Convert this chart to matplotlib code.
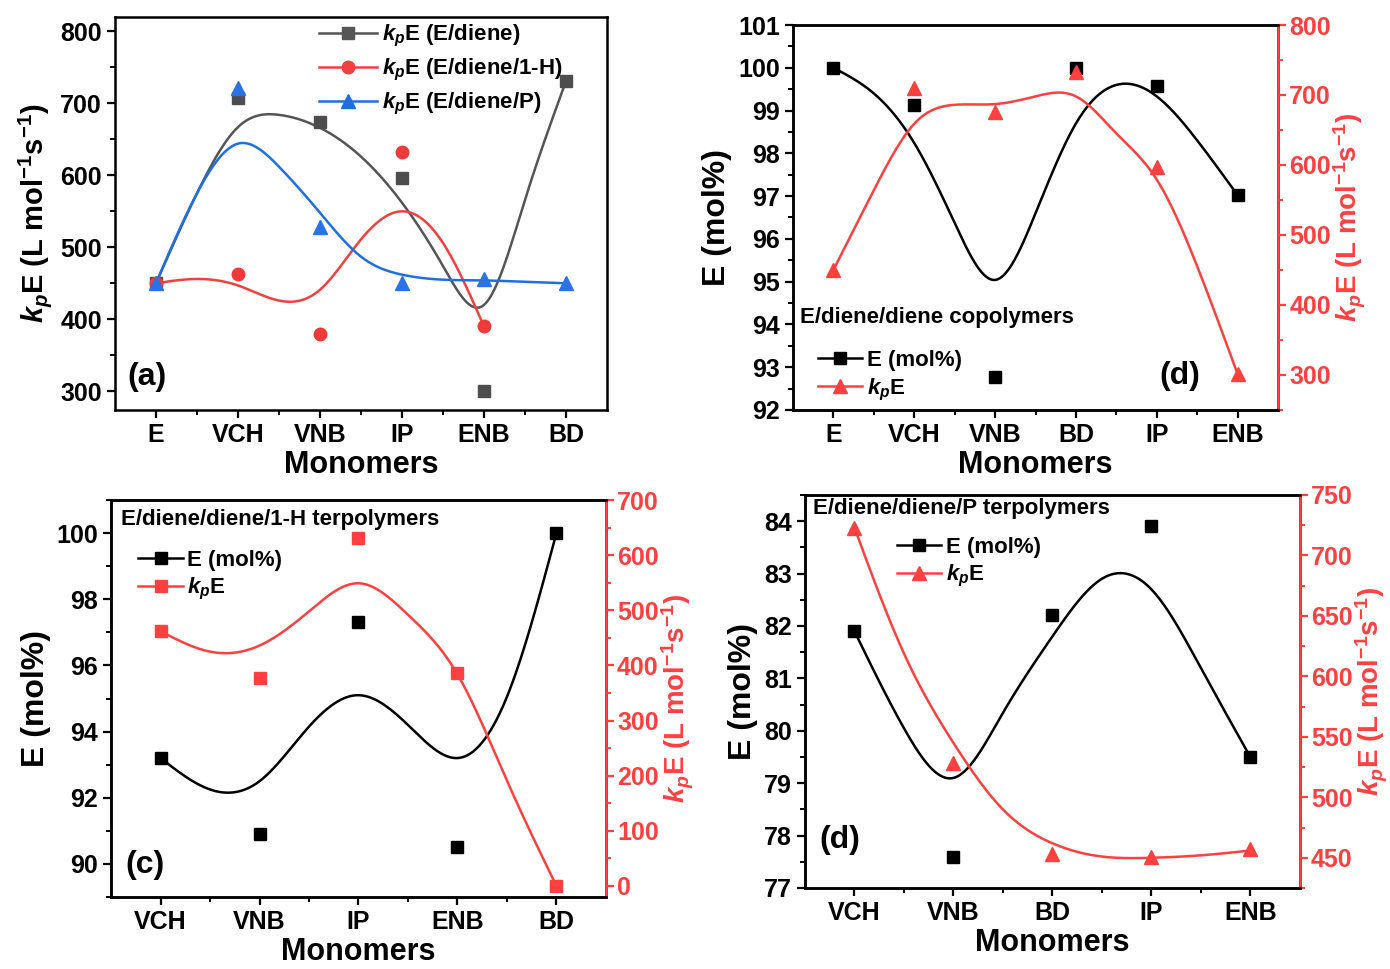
import matplotlib
matplotlib.use("Agg")
import matplotlib.pyplot as plt
import numpy as np
from matplotlib.ticker import FixedLocator, MultipleLocator

plt.rcParams['font.family'] = ['Liberation Sans', 'DejaVu Sans']
plt.rcParams['font.weight'] = 'bold'
plt.rcParams['axes.labelweight'] = 'bold'
plt.rcParams['mathtext.fontset'] = 'custom'
plt.rcParams['mathtext.it'] = 'Liberation Sans:italic:bold'
plt.rcParams['mathtext.rm'] = 'Liberation Sans:bold'
plt.rcParams['mathtext.bf'] = 'Liberation Sans:bold'

# ---- panel (a): kpE for the three systems
mono_a = ["E", "VCH", "VNB", "IP", "ENB", "BD"]
kp_ediene = [450, 708, 674, 596, 301, 731]
kp_ediene_h = [450, 463, 379, 632, 390]
kp_ediene_p = [450, 722, 528, 450, 456, 450]
# smooth guide curves, read at steps of half a category
fit_ediene = [450, 575, 667, 684, 666, 626, 562, 474, 420, 566, 731]
fit_ediene_h = [450, 456, 447, 426, 441, 511, 550, 506, 390]
fit_ediene_p = [450, 575, 644, 612, 548, 487, 462, 455, 454, 452, 450]

# ---- panel (b): E/diene/diene copolymers
mono_b = ["E", "VCH", "VNB", "BD", "IP", "ENB"]
emol_b = [100.0, 99.12, 92.78, 100.0, 99.58, 97.02]
kp_b = [450, 710, 676, 733, 597, 301]
fit_emol_b = [100.0, 99.4, 98.24, 96.37, 95.04, 96.6, 98.7, 99.6, 99.33, 98.3, 97.02]
fit_kp_b = [450, 564, 659, 686, 687, 698, 698, 645, 579, 455, 301]

# ---- panel (c): E/diene/diene/1-H terpolymers
mono_c = ["VCH", "VNB", "IP", "ENB", "BD"]
emol_c = [93.2, 90.9, 97.3, 90.5, 100.0]
kp_c = [462, 378, 631, 387, 0]
fit_emol_c = [93.2, 92.25, 92.5, 94.15, 95.1, 94.2, 93.2, 95.05, 100.0]
fit_kp_c = [462, 425, 436, 498, 549, 492, 384, 191, 0]

# ---- panel (d): E/diene/diene/P terpolymers
mono_d = ["VCH", "VNB", "BD", "IP", "ENB"]
emol_d = [81.9, 77.6, 82.2, 83.9, 79.5]
kp_d = [723, 528, 453, 451, 457]
fit_emol_d = [81.9, 80.05, 79.1, 80.34, 81.8, 82.9, 82.7, 81.2, 79.5]
fit_kp_d = [723, 619, 545, 490, 462, 451, 450, 452, 456]

RED = '#ff4040'
KP = r'$k_p$E'


def spline(yk, n=400):
    # natural cubic spline through points spaced half a category apart
    yk = np.asarray(yk, float)
    xk = np.arange(len(yk)) * 0.5
    m = len(xk)
    h = np.diff(xk)
    A = np.zeros((m, m))
    b = np.zeros(m)
    A[0, 0] = A[-1, -1] = 1
    for i in range(1, m - 1):
        A[i, i - 1] = h[i - 1]
        A[i, i] = 2 * (h[i - 1] + h[i])
        A[i, i + 1] = h[i]
        b[i] = 6 * ((yk[i + 1] - yk[i]) / h[i] - (yk[i] - yk[i - 1]) / h[i - 1])
    M = np.linalg.solve(A, b)
    xs = np.linspace(xk[0], xk[-1], n)
    j = np.clip(np.searchsorted(xk, xs) - 1, 0, m - 2)
    t0 = xk[j + 1] - xs
    t1 = xs - xk[j]
    hj = h[j]
    ys = (M[j] * t0**3 + M[j + 1] * t1**3) / (6 * hj) \
        + (yk[j] / hj - M[j] * hj / 6) * t0 + (yk[j + 1] / hj - M[j + 1] * hj / 6) * t1
    return xs, ys


def style(ax, cats):
    for s in ax.spines.values():
        s.set_linewidth(1.8)
    ax.set_xticks(range(len(cats)))
    ax.set_xticklabels(cats)
    ax.xaxis.set_minor_locator(FixedLocator(np.arange(len(cats) - 1) + 0.5))
    ax.set_xlim(-0.5, len(cats) - 0.5)
    ax.tick_params(which='major', direction='out', length=6, width=1.6, labelsize=18)
    ax.tick_params(which='minor', direction='out', length=3.5, width=1.4)
    ax.set_xlabel('Monomers', fontsize=22, labelpad=2)


def red_axis(ax):
    for s in ax.spines.values():
        s.set_linewidth(1.8)
    ax.spines['right'].set_color(RED)
    ax.tick_params(axis='y', which='both', colors=RED, labelcolor=RED)
    ax.tick_params(which='major', direction='out', length=6, width=1.6, labelsize=18, pad=2)
    ax.tick_params(which='minor', direction='out', length=3.5, width=1.4)
    ax.set_ylabel(KP + r' (L mol$^{\mathrm{-1}}$s$^{\mathrm{-1}}$)', color=RED, fontsize=20,
                  labelpad=1)


fig = plt.figure(figsize=(13.9, 9.69), dpi=100)

# ---------------- (a)
ax = fig.add_axes([0.0827, 0.5769, 0.354, 0.4056])
xa = np.arange(len(mono_a))
ax.plot(*spline(fit_ediene), color='#555555', lw=1.8)
ax.plot(*spline(fit_ediene_h), color='#f04040', lw=1.8)
ax.plot(*spline(fit_ediene_p), color='#1f6fe0', lw=1.8)
ax.plot(xa, kp_ediene, 's', color='#4d4d4d', ms=8)
ax.plot(xa[:len(kp_ediene_h)], kp_ediene_h, 'o', color='#ee3a3a', ms=9)
ax.plot(xa, kp_ediene_p, '^', color='#2a72e6', ms=10)
h1, = ax.plot([], [], 's-', color='#555555', lw=1.8, ms=8)
h2, = ax.plot([], [], 'o-', color='#f04040', lw=1.8, ms=9)
h3, = ax.plot([], [], '^-', color='#1f6fe0', lw=1.8, ms=10)
ax.legend([h1, h2, h3], [KP + ' (E/diene)', KP + ' (E/diene/1-H)', KP + ' (E/diene/P)'],
          loc='upper left', bbox_to_anchor=(0.375, 1.035), frameon=False, fontsize=16,
          handlelength=2.6, handletextpad=0.2, labelspacing=0.35, numpoints=1)
style(ax, mono_a)
ax.set_ylim(274, 820)
ax.yaxis.set_major_locator(MultipleLocator(100))
ax.yaxis.set_minor_locator(MultipleLocator(50))
ax.set_ylabel(KP + r' (L mol$^{\mathrm{-1}}$s$^{\mathrm{-1}}$)', fontsize=21)
ax.text(0.025, 0.085, '(a)', transform=ax.transAxes, fontsize=23, va='center')

# ---------------- (b)
ax = fig.add_axes([0.5705, 0.5769, 0.349, 0.3973])
xb = np.arange(len(mono_b))
ax.plot(*spline(fit_emol_b), color='black', lw=1.8)
ax.plot(xb, emol_b, 's', color='black', ms=8)
style(ax, mono_b)
ax.set_ylim(92, 101)
ax.yaxis.set_major_locator(MultipleLocator(1))
ax.yaxis.set_minor_locator(MultipleLocator(0.5))
ax.set_ylabel('E (mol%)', fontsize=23)
ax2 = ax.twinx()
ax2.plot(*spline(fit_kp_b), color=RED, lw=1.8)
ax2.plot(xb, kp_b, '^', color=RED, ms=10)
ax2.set_ylim(250, 800)
ax2.yaxis.set_major_locator(MultipleLocator(100))
ax2.yaxis.set_minor_locator(MultipleLocator(50))
red_axis(ax2)
ax.text(0.014, 0.24, 'E/diene/diene copolymers', transform=ax.transAxes, fontsize=16, va='center')
hb1, = ax.plot([], [], 's-', color='black', lw=1.8, ms=8)
hb2, = ax.plot([], [], '^-', color=RED, lw=1.8, ms=10)
ax.legend([hb1, hb2], ['E (mol%)', KP], loc='upper left', bbox_to_anchor=(0.01, 0.208),
          frameon=False, fontsize=16, handlelength=2.0, handletextpad=0.2, labelspacing=0.25)
ax.text(0.755, 0.088, '(d)', transform=ax.transAxes, fontsize=23, va='center')

# ---------------- (c)
ax = fig.add_axes([0.0799, 0.0743, 0.356, 0.4097])
xc = np.arange(len(mono_c))
ax.plot(*spline(fit_emol_c), color='black', lw=1.8)
ax.plot(xc, emol_c, 's', color='black', ms=8)
style(ax, mono_c)
ax.set_ylim(89, 101)
ax.yaxis.set_major_locator(MultipleLocator(2))
ax.yaxis.set_minor_locator(MultipleLocator(1))
ax.set_ylabel('E (mol%)', fontsize=23)
ax2 = ax.twinx()
ax2.plot(*spline(fit_kp_c), color=RED, lw=1.8)
ax2.plot(xc, kp_c, 's', color=RED, ms=8)
ax2.set_ylim(-20, 700)
ax2.yaxis.set_major_locator(MultipleLocator(100))
ax2.yaxis.set_minor_locator(MultipleLocator(50))
red_axis(ax2)
ax.text(0.02, 0.95, 'E/diene/diene/1-H terpolymers', transform=ax.transAxes, fontsize=16, va='center')
hc1, = ax.plot([], [], 's-', color='black', lw=1.8, ms=8)
hc2, = ax.plot([], [], 's-', color=RED, lw=1.8, ms=8)
ax.legend([hc1, hc2], ['E (mol%)', KP], loc='upper left', bbox_to_anchor=(0.015, 0.925),
          frameon=False, fontsize=16, handlelength=2.0, handletextpad=0.2, labelspacing=0.25)
ax.text(0.028, 0.08, '(c)', transform=ax.transAxes, fontsize=23, va='center')

# ---------------- (d)
ax = fig.add_axes([0.5791, 0.0836, 0.356, 0.4056])
xd = np.arange(len(mono_d))
ax.plot(*spline(fit_emol_d), color='black', lw=1.8)
ax.plot(xd, emol_d, 's', color='black', ms=8)
style(ax, mono_d)
ax.set_ylim(77, 84.5)
ax.yaxis.set_major_locator(MultipleLocator(1))
ax.yaxis.set_minor_locator(MultipleLocator(0.5))
ax.set_ylabel('E (mol%)', fontsize=23)
ax2 = ax.twinx()
ax2.plot(*spline(fit_kp_d), color=RED, lw=1.8)
ax2.plot(xd, kp_d, '^', color=RED, ms=10)
ax2.set_ylim(425, 750)
ax2.yaxis.set_major_locator(MultipleLocator(50))
ax2.yaxis.set_minor_locator(MultipleLocator(25))
red_axis(ax2)
ax.text(0.016, 0.965, 'E/diene/diene/P terpolymers', transform=ax.transAxes, fontsize=16, va='center')
hd1, = ax.plot([], [], 's-', color='black', lw=1.8, ms=8)
hd2, = ax.plot([], [], '^-', color=RED, lw=1.8, ms=10)
ax.legend([hd1, hd2], ['E (mol%)', KP], loc='upper left', bbox_to_anchor=(0.145, 0.945),
          frameon=False, fontsize=16, handlelength=2.0, handletextpad=0.2, labelspacing=0.25)
ax.text(0.03, 0.122, '(d)', transform=ax.transAxes, fontsize=23, va='center')

fig.savefig('out.png', dpi=100)
